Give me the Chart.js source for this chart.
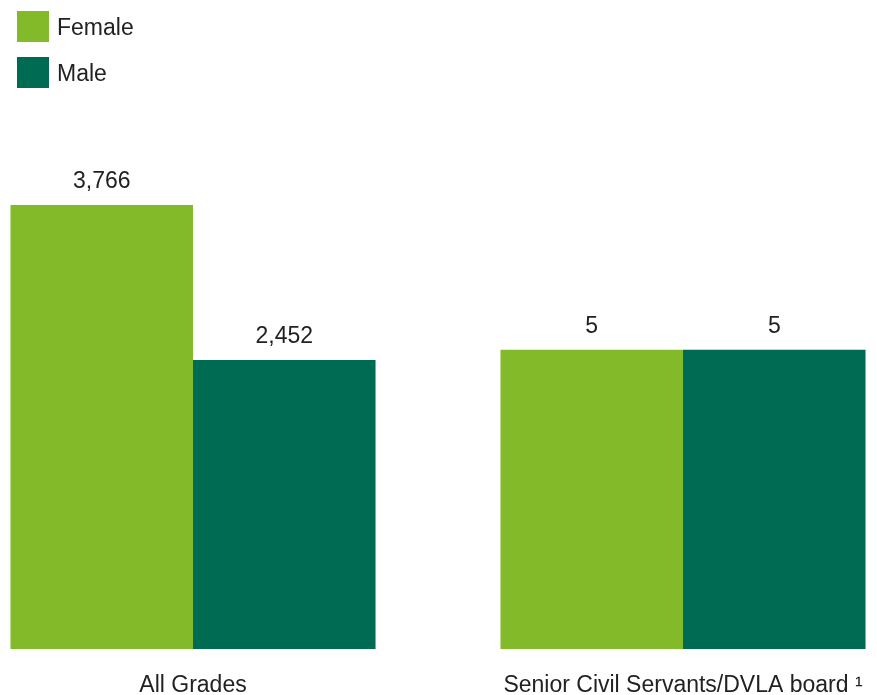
<!DOCTYPE html>
<html><head><meta charset="utf-8">
<script src="https://cdn.jsdelivr.net/npm/chart.js@4"></script>
<style>
html,body{margin:0;padding:0;background:#fff;}
#wrap{position:relative;width:877px;height:695px;overflow:hidden;}
#c{position:absolute;left:0;top:0;}
#legend{position:absolute;left:17px;top:11px;font:23px "Liberation Sans",Arial,sans-serif;color:#222;}
.item{display:flex;align-items:center;height:31px;margin-bottom:15px;}
.item span{position:relative;top:1px;}
.sw{width:32px;height:31px;margin-right:8px;}
</style></head>
<body><div id="wrap"><canvas id="c" width="877" height="695"></canvas><div id="legend"></div></div>
<script>
const categories = ['All Grades', 'Senior Civil Servants/DVLA board \u00B9'];
const seriesNames = ['Female', 'Male'];
const female = [3766, 5];
const male = [2452, 5];
const seriesValues = [female, male];
const colors = ['#82ba29', '#006b53'];
const FONT = '"Liberation Sans", Arial, sans-serif';

// legend
const lg = document.getElementById('legend');
seriesNames.forEach((n, s) => {
  const it = document.createElement('div'); it.className = 'item';
  const sw = document.createElement('div'); sw.className = 'sw'; sw.style.background = colors[s];
  const t = document.createElement('span'); t.textContent = n;
  it.appendChild(sw); it.appendChild(t); lg.appendChild(it);
});

// each category group gets its own value axis
const datasets = [];
categories.forEach((c, g) => {
  seriesNames.forEach((n, s) => {
    datasets.push({
      label: n,
      data: categories.map((cc, i) => ({x: i, y: i === g ? seriesValues[s][i] : null})),
      yAxisID: g === 0 ? 'y' : 'y2',
      backgroundColor: colors[s],
      borderWidth: 0,
      skipNull: true,
      categoryPercentage: 0.745,
      barPercentage: 1
    });
  });
});

const valueLabels = {
  id: 'valueLabels',
  afterDatasetsDraw(chart) {
    const ctx = chart.ctx;
    ctx.save();
    ctx.font = '23px ' + FONT;
    ctx.fillStyle = '#222';
    ctx.textAlign = 'center';
    ctx.textBaseline = 'middle';
    chart.data.datasets.forEach((ds, di) => {
      const meta = chart.getDatasetMeta(di);
      meta.data.forEach((bar, i) => {
        const v = ds.data[i].y;
        if (v == null) return;
        ctx.fillText(v.toLocaleString('en-GB'), bar.x, bar.y - 23);
      });
    });
    ctx.restore();
  }
};

new Chart(document.getElementById('c'), {
  type: 'bar',
  data: {datasets},
  options: {
    responsive: false,
    animation: false,
    devicePixelRatio: 1,
    layout: {padding: {top: 205, left: 0, right: 0, bottom: 0}},
    plugins: {legend: {display: false}, tooltip: {enabled: false}},
    scales: {
      x: {
        type: 'linear',
        offset: false,
        min: -0.3939,
        max: 1.3959,
        grid: {display: false, drawTicks: false},
        border: {display: false},
        afterFit(scale) { scale.height = 46; scale.paddingLeft = 0; scale.paddingRight = 0; },
        ticks: {
          stepSize: 1,
          includeBounds: false,
          autoSkip: false,
          maxRotation: 0,
          padding: 22.4,
          color: '#222',
          font: {family: FONT, size: 23},
          callback: v => categories[v] ?? ''
        }
      },
      y: {display: false, min: 0, max: 3766},
      y2: {display: false, min: 0, max: 7.42}
    }
  },
  plugins: [valueLabels]
});
</script>
</body></html>
